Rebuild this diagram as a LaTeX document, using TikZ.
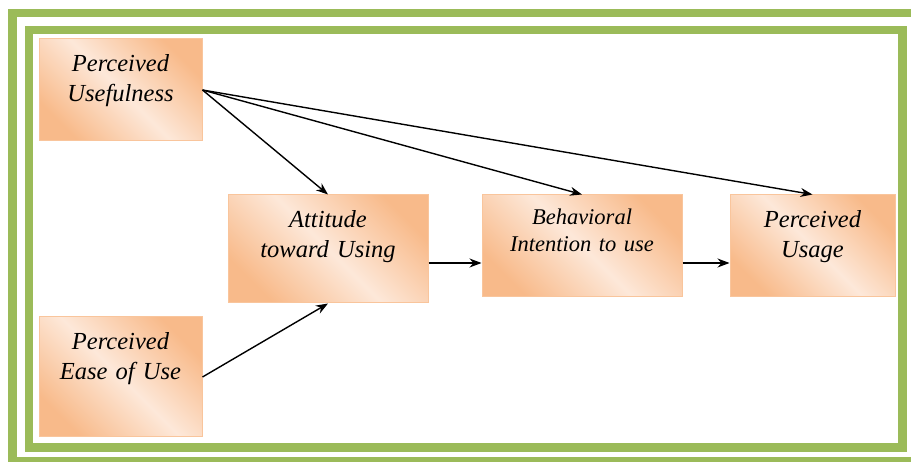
\documentclass[tikz,border=0pt]{standalone}
\usepackage{fontspec}
\setmainfont{Liberation Serif}
\usetikzlibrary{arrows.meta,positioning}

\definecolor{framegreen}{HTML}{9BBB59}
\definecolor{boxorange}{HTML}{F8BA8A}
\definecolor{boxlight}{HTML}{FDE8D9}
\definecolor{boxline}{HTML}{F9C59C}

\begin{document}
\begin{tikzpicture}[x=1pt, y=-1pt, >={Stealth[length=12pt,width=9pt]},
  block/.style={rectangle, draw=boxline, line width=1pt, left color=boxorange, right color=boxorange, middle color=boxlight, shading angle=135, text width=#1, align=center, inner xsep=4pt, inner ysep=0pt, font=\fontsize{24.5}{29.5}\selectfont\itshape, text height=33pt},
  link/.style={->, line width=1.4pt}]
  \useasboundingbox (0,0) rectangle (911,462);
  \clip (0,0) rectangle (911,462);
  %% double green frame
  \draw [framegreen, line width=8.5pt] (12.5,13) rectangle (918,461);
  \draw [framegreen, line width=8.5pt] (29,30) rectangle (902.5,447.5);
  %% constructs
  \node [block=155pt, text depth=69pt] (pu) at (120.5,90) {Perceived\\Usefulness};
  \node [block=155pt, text depth=87pt] (peou) at (120.5,377) {Perceived\\Ease of Use};
  \node [block=192pt, text depth=75pt] (atu) at (328,249) {Attitude\\toward Using};
  \node [block=192pt, text height=30pt, text depth=72pt, font=\fontsize{22.5}{27}\selectfont\itshape] (bi) at (582,246) {Behavioral\\Intention to use};
  \node [block=157pt, text depth=69pt] (use) at (812.5,246) {Perceived\\Usage};
  % Draw edges
  \coordinate (ab) at ([yshift=-14pt]atu.east);
  \coordinate (bu) at ([yshift=-17pt]bi.east);
  \draw [link] (pu.east) -- (atu.north);
  \draw [link] (pu.east) -- (bi.north);
  \draw [link] (pu.east) -- (use.north);
  \draw [link] (peou.east) -- (atu.south);
  \draw [link] (ab) -- (ab -| bi.west);
  \draw [link] (bu) -- (bu -| use.west);
\end{tikzpicture}
\end{document}
